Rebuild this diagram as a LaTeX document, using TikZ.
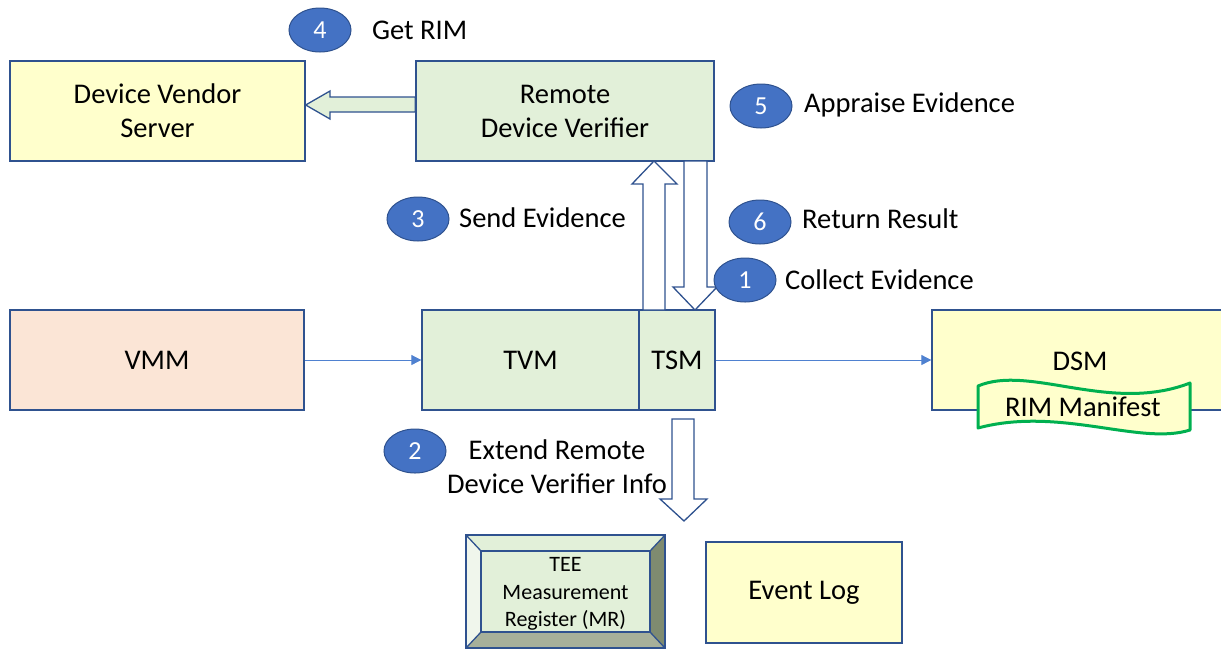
\documentclass[tikz,border=0pt]{standalone}
\usepackage{fontspec}
\setmainfont{Carlito}
\usetikzlibrary{shapes.geometric,arrows.meta,calc}
\definecolor{bord}{HTML}{2F528F}
\definecolor{circfill}{HTML}{4472C4}
\definecolor{gfill}{HTML}{E2F0D9}
\definecolor{yfill}{HTML}{FFFFCC}
\definecolor{pfill}{HTML}{FBE5D6}
\definecolor{thin}{HTML}{4F81D0}
\definecolor{rimg}{HTML}{00B050}
\definecolor{bevl}{HTML}{F0F6EC}
\definecolor{bevr}{HTML}{7F8B70}
\definecolor{bevb}{HTML}{A7B09A}
\tikzset{
  box/.style={draw=bord,line width=1.3pt,minimum width=#1,inner sep=0pt,align=center,font=\fontsize{28.5}{34}\selectfont},
  num/.style={ellipse,draw=bord,line width=1pt,fill=circfill,text=white,minimum width=62pt,minimum height=44pt,inner sep=0pt,font=\fontsize{26}{28}\selectfont},
  lbl/.style={anchor=west,inner sep=0pt,font=\fontsize{28.5}{30}\selectfont},
  blk/.style={draw=bord,line width=1.3pt,line join=miter},
  thinarrow/.style={draw=thin,line width=0.8pt,-{Triangle[length=10pt,width=10pt]}}
}
\begin{document}
\begin{tikzpicture}[x=1pt,y=-1pt]
\useasboundingbox (0,0) rectangle (1221,649);
% boxes
\node[box=295pt,minimum height=100pt,fill=yfill] (dvs) at (157.5,111) {Device Vendor\\Server};
\node[box=298pt,minimum height=100pt,fill=gfill] (rdv) at (565,111) {Remote\\Device Verifier};
\node[box=294pt,minimum height=100pt,fill=pfill] (vmm) at (157,360) {VMM};
\node[box=217pt,minimum height=100pt,fill=gfill] (tvm) at (530.5,360) {TVM};
\node[box=76pt,minimum height=100pt,fill=gfill] (tsm) at (677,360) {TSM};
\node[box=300pt,minimum height=100pt,fill=yfill,text depth=0pt] (dsm) at (1082,360) {};
\node[font=\fontsize{28.5}{30}\selectfont,inner sep=0pt] (dsmt) at (1080,361) {DSM};
\node[box=196pt,minimum height=101pt,fill=yfill] (elog) at (804,592.5) {Event Log};
% RIM manifest wave
\draw[draw=rimg,line width=3pt,fill=yfill,line join=round]
  (978,386) .. controls (1030,364) and (1110,414) .. (1190,383)
  -- (1190,430) .. controls (1140,446) and (1060,406) .. (978,428) -- cycle;
\node[font=\fontsize{28.5}{30}\selectfont,inner sep=0pt] (rim) at (1083,407) {RIM Manifest};
% TEE MR bevel box
\coordinate (o1) at (466,535); \coordinate (o2) at (665,535);
\coordinate (o3) at (665,648); \coordinate (o4) at (466,648);
\coordinate (i1) at (481,551); \coordinate (i2) at (650,551);
\coordinate (i3) at (650,632); \coordinate (i4) at (481,632);
\fill[gfill] (o1) -- (o2) -- (i2) -- (i1) -- cycle;
\fill[bevl] (o1) -- (i1) -- (i4) -- (o4) -- cycle;
\fill[bevr] (o2) -- (o3) -- (i3) -- (i2) -- cycle;
\fill[bevb] (o4) -- (i4) -- (i3) -- (o3) -- cycle;
\draw[bord,line width=1.3pt] (o1) -- (i1) (o2) -- (i2) (o3) -- (i3) (o4) -- (i4);
\draw[bord,line width=1.3pt,fill=gfill] (i1) rectangle (i3);
\draw[bord,line width=1.3pt] (o1) rectangle (o3);
\node[align=center,inner sep=0pt,font=\fontsize{22}{27.5}\selectfont] (mr) at (565.5,594) {TEE\\Measurement\\Register (MR)};
% thin arrows
\draw[thinarrow] (vmm.east) -- (tvm.west);
\draw[thinarrow] (tsm.east) -- (dsm.west);
% block arrows
\draw[blk,fill=gfill] (rdv.west |- 0,97) -- (330,97) -- (330,91) -- (dvs.east |- 0,105) -- (330,119) -- (330,112) -- (rdv.west |- 0,112) -- cycle;
\draw[blk,fill=white] (643,310) -- (643,184) -- (632,184) -- (654,161) -- (677,184) -- (665,184) -- (665,310) -- cycle;
\draw[blk,fill=white] (684,161) -- (684,287) -- (673,287) -- (695,310) -- (717,287) -- (707,287) -- (707,161) -- cycle;
\draw[blk,fill=white] (672,419) -- (672,499) -- (660,499) -- (684,521) -- (707,499) -- (694,499) -- (694,419) -- cycle;
% numbered circles and labels
\node[num] (n4) at (320,30) {4};
\node[lbl] (t4) at (372,30) {Get RIM};
\node[num] (n5) at (761,106) {5};
\node[lbl] (t5) at (804,105) {Appraise Evidence};
\node[num] (n3) at (418,219) {3};
\node[lbl] (t3) at (459,218) {Send Evidence};
\node[num] (n6) at (760,222) {6};
\node[lbl] (t6) at (802,219) {Return Result};
\node[num] (n1) at (745,280) {1};
\node[lbl] (t1) at (785,280) {Collect Evidence};
\node[num] (n2) at (415,451) {2};
\node[align=center,inner sep=0pt,font=\fontsize{28.5}{34}\selectfont] (t2) at (557,467) {Extend Remote\\Device Verifier Info};
\end{tikzpicture}
\end{document}
